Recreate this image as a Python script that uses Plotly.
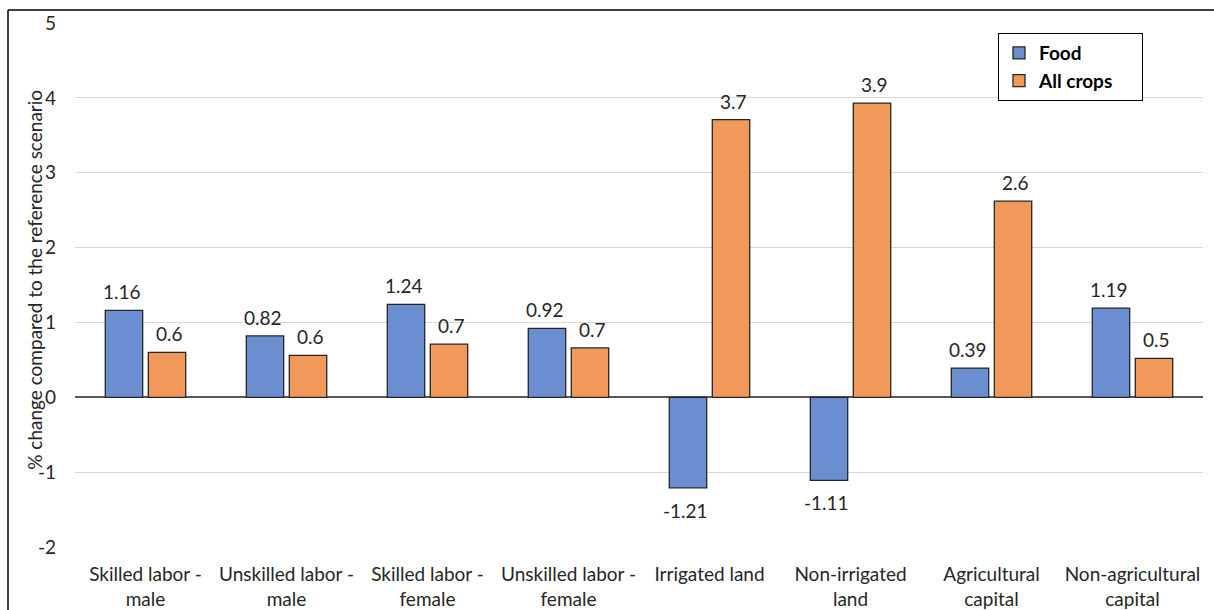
import plotly.graph_objects as go

# Factor categories and percentage changes for each scenario
categories = [
    "Skilled labor -<br>male",
    "Unskilled labor -<br>male",
    "Skilled labor -<br>female",
    "Unskilled labor -<br>female",
    "Irrigated land",
    "Non-irrigated<br>land",
    "Agricultural<br>capital",
    "Non-agricultural<br>capital",
]
food = [1.16, 0.82, 1.24, 0.92, -1.21, -1.11, 0.39, 1.19]
all_crops = [0.60, 0.56, 0.71, 0.66, 3.71, 3.93, 2.62, 0.52]

y_ticks = [-2, -1, 0, 1, 2, 3, 4, 5]
y_tick_text = [str(t) for t in y_ticks]

W, H = 1214, 610
ML, MR, MT, MB = 75, 11, 23, 63
FONT = "Lato"
TXT = "#262626"
PAD = "\u00a0" * 5  # right padding inside the legend box

fig = go.Figure()
fig.add_trace(go.Bar(
    name="Food" + PAD, x=list(range(len(categories))), y=food,
    marker=dict(color="#6A8ED0", line=dict(color="#262626", width=1.3)),
))
fig.add_trace(go.Bar(
    name="All crops" + PAD, x=list(range(len(categories))), y=all_crops,
    marker=dict(color="#F1995A", line=dict(color="#262626", width=1.3)),
))

# Value labels placed just beyond the end of each bar
offset = 0.17
annotations = []
for i, (f, a) in enumerate(zip(food, all_crops)):
    for x, v, fmt in ((i - offset, f, "{:.2f}"), (i + offset, a, "{:.1f}")):
        annotations.append(dict(
            x=x, y=v, xref="x", yref="y", text=fmt.format(v),
            showarrow=False, yanchor="bottom" if v >= 0 else "top",
            yshift=5 if v >= 0 else -9,
            font=dict(family=FONT, size=19, color=TXT),
        ))

pw = W - ML - MR
ph = H - MT - MB

# Vertical axis title
annotations.append(dict(
    x=(35 - ML) / pw, y=0.51, xref="paper", yref="paper",
    text="% change compared to the reference scenario", textangle=-90,
    showarrow=False, xanchor="center", yanchor="middle",
    font=dict(family=FONT, size=19, color=TXT),
))

# Outer frame of the chart area
fx0 = (8 - ML) / pw
fy1 = (H - MB - 10) / ph
shapes = [
    dict(type="line", xref="paper", yref="paper", x0=fx0, x1=fx0, y0=fy1, y1=-0.5,
         line=dict(color="black", width=1.5)),
    dict(type="line", xref="paper", yref="paper", x0=fx0, x1=1.5, y0=fy1, y1=fy1,
         line=dict(color="black", width=1.5)),
]

fig.update_layout(
    width=W, height=H,
    margin=dict(l=ML, r=MR, t=MT, b=MB, autoexpand=False),
    paper_bgcolor="white", plot_bgcolor="white",
    barmode="group", bargap=0.39, bargroupgap=0.13,
    font=dict(family=FONT, size=19, color=TXT),
    annotations=annotations,
    shapes=shapes,
    legend=dict(
        x=(998 - ML) / pw, y=(H - MB - 33) / ph, xanchor="left", yanchor="top",
        bordercolor="black", borderwidth=1, bgcolor="white",
        font=dict(family=FONT, size=19, color="black", weight="bold"),
        itemwidth=30,
    ),
    xaxis=dict(
        tickmode="array", tickvals=list(range(len(categories))), ticktext=categories,
        range=[-0.5, len(categories) - 0.5], showgrid=False, showline=False,
        zeroline=False, ticks="", ticklabelstandoff=14, automargin=False,
        tickfont=dict(size=19, color=TXT),
    ),
    yaxis=dict(
        range=[-2, 5], tickvals=y_ticks, ticktext=y_tick_text,
        showgrid=True, gridcolor="#D9D9D9", automargin=False,
        gridwidth=1.3, zeroline=True, zerolinecolor="#595959", zerolinewidth=1.5,
        showline=False, ticks="", ticklabelstandoff=18,
        tickfont=dict(size=19, color=TXT),
    ),
)

fig.write_html("out.html")
